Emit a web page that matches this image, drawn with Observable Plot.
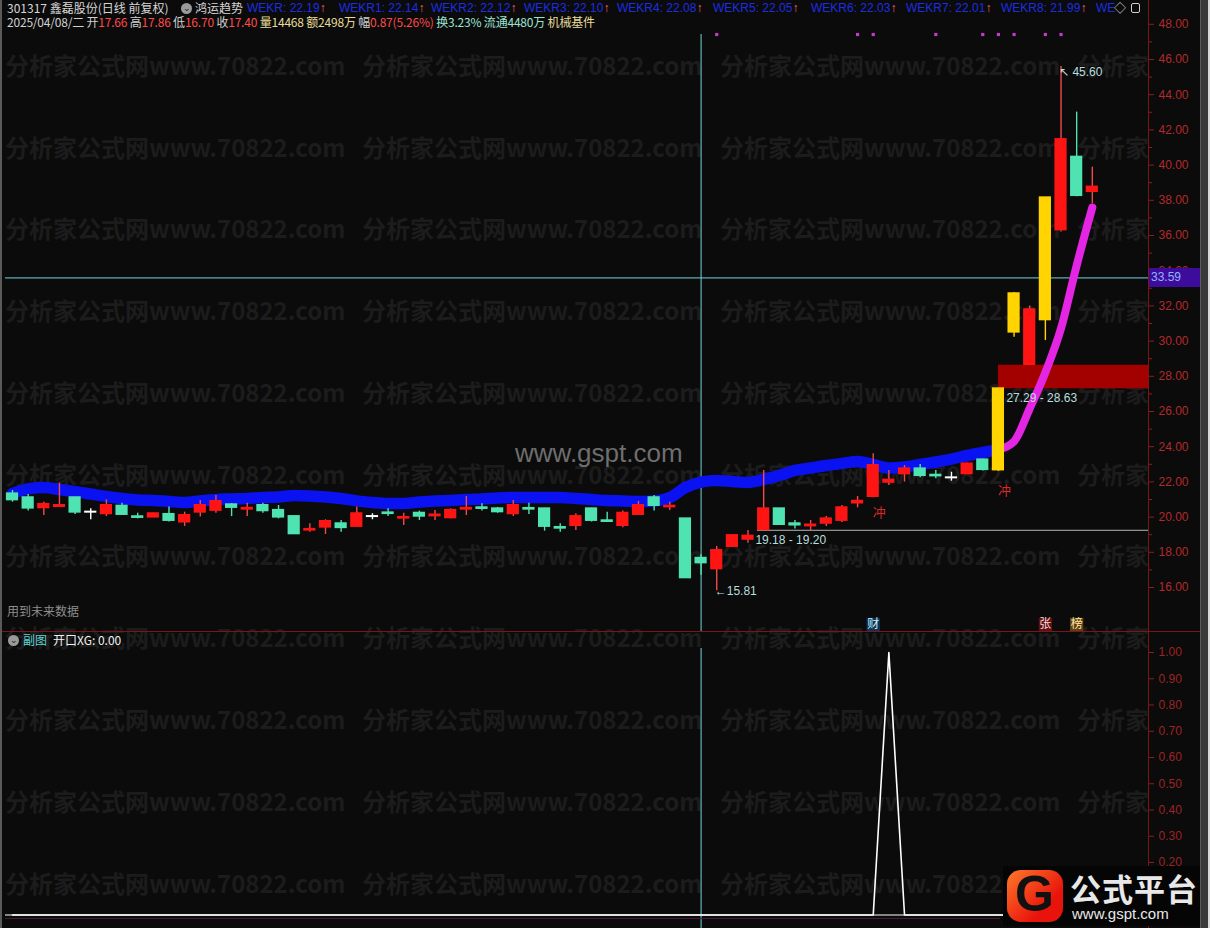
<!DOCTYPE html>
<html><head><meta charset="utf-8">
<script src="https://cdn.jsdelivr.net/npm/d3@7"></script>
<script src="https://cdn.jsdelivr.net/npm/@observablehq/plot@0.6"></script>
<style>
html,body{margin:0;padding:0;background:#0b0b0b;}
#root{position:relative;width:1210px;height:928px;background:#0b0b0b;overflow:hidden;font-family:"Noto Sans CJK SC","Noto Sans",sans-serif;}
.abs{position:absolute;white-space:nowrap;line-height:1;}
#wmLayer{position:absolute;left:0;top:0;width:1148px;height:928px;overflow:hidden;}
.wm{position:absolute;white-space:nowrap;font-family:"Noto Sans CJK SC",sans-serif;font-weight:700;font-size:24px;color:#1c1c1c;line-height:1;}
.hd{font-size:12px;}
.plotbox{position:absolute;left:0;}
.plotbox svg{display:block;overflow:visible;}
</style></head>
<body><div id="root">
<div id="wmLayer"></div>
<div class="abs" style="left:515px;top:440px;font-family:'Liberation Sans',Arial,sans-serif;font-size:26px;color:#6e6e6e;">www.gspt.com</div>
<div id="mainBox" class="plotbox" style="top:0"></div>
<div id="subBox" class="plotbox" style="top:632px"></div>
<div id="overlay"></div>
</div>
<script>
// ---------------- data ----------------
const opens  = [21.32,21.10,20.53,20.60,21.10,20.28,20.19,20.62,20.02,20.00,20.15,19.72,20.28,20.38,20.70,20.45,20.66,20.38,20.03,19.26,
                19.43,19.62,19.47,20.03,20.24,19.94,20.22,20.07,19.96,20.45,20.53,20.47,20.19,20.49,20.47,19.41,19.52,20.47,19.79,19.52,
                20.15,21.10,20.58,19.90,17.66,17.06,18.33,18.74,19.28,20.47,19.62,19.50,19.65,19.81,20.80,21.17,21.98,22.46,22.74,22.38,
                22.23,22.46,23.25,22.68,30.51,28.67,31.21,36.32,40.45,38.50];
const highs  = [21.51,21.28,20.85,21.93,21.12,20.47,20.98,20.79,20.22,20.22,20.57,20.28,20.94,21.23,20.76,20.79,20.79,20.66,20.05,19.62,
                19.85,19.81,20.57,20.19,20.47,20.22,20.34,20.38,20.47,21.17,20.76,20.55,20.94,20.79,20.50,19.62,20.19,20.50,20.28,20.34,
                20.89,21.23,20.85,19.90,17.86,18.33,19.00,19.24,22.65,20.47,19.81,19.81,20.03,20.66,21.17,23.60,22.65,22.93,22.99,22.65,
                22.55,23.08,23.30,27.29,32.75,31.99,38.14,45.60,43.01,39.88];
const lows   = [20.85,20.34,20.09,20.56,20.15,19.85,20.03,20.15,19.90,19.98,19.72,19.47,20.00,20.22,20.03,20.03,20.22,19.90,19.05,19.14,
                19.01,19.14,19.47,19.85,20.03,19.52,19.81,19.81,19.90,20.09,20.34,20.22,20.03,20.15,19.20,19.14,19.24,19.72,19.75,19.39,
                20.15,20.34,20.38,16.55,16.70,15.81,18.30,18.52,19.28,19.58,19.33,19.24,19.47,19.70,20.53,21.10,21.80,21.99,22.23,22.18,
                22.04,22.42,22.62,22.60,30.22,28.63,30.03,36.20,38.20,37.80];
const closes = [20.98,20.51,20.72,20.66,20.28,20.28,20.66,20.15,19.98,20.19,19.81,20.09,20.66,20.89,20.55,20.50,20.36,20.00,19.05,19.30,
                19.75,19.40,20.19,20.03,20.20,19.98,20.05,20.12,20.38,20.50,20.49,20.30,20.66,20.45,19.47,19.37,20.03,19.81,19.75,20.22,
                20.66,20.66,20.62,16.55,17.40,18.10,18.95,18.92,20.47,19.58,19.55,19.55,19.90,20.53,20.90,22.93,22.10,22.74,22.36,22.34,
                22.23,23.02,22.70,27.29,32.69,31.78,38.14,41.45,38.27,38.75];
const yellowIdx = [63,64,66];                 // strong-rally candles drawn in yellow
const trendBlue = [21.34,21.60,21.68,21.57,21.45,21.31,21.17,21.06,20.97,20.94,20.89,20.83,20.92,21.00,21.03,21.06,21.11,21.14,21.23,21.20,
                   21.14,21.06,20.92,20.83,20.77,20.77,20.86,20.92,20.94,21.00,21.03,21.09,21.11,21.11,21.11,21.11,21.06,21.00,20.94,20.92,
                   20.89,20.92,21.11,21.68,21.99,22.08,22.02,21.97,22.14,22.36,22.65,22.79,22.93,23.05,23.16,22.99,22.79,22.85,22.99,23.13,
                   23.30,23.50,23.67,23.84];          // index 0..63
const trendMagentaStart = 63;
const trendMagenta = [23.84,24.30,26.17,28.22,30.72,34.30,37.59]; // index 63..69
const subXG = [0,0,0,0,0,0,0,0,0,0,0,0,0,0,0,0,0,0,0,0,0,0,0,0,0,0,0,0,0,0,0,0,0,0,0,0,0,0,0,0,
               0,0,0,0,0,0,0,0,0,0,0,0,0,0,0,0,1,0,0,0,0,0,0,0,0,0,0,0,0,0];
const cursorIndex = 44;
const cursorPrice = 33.59;
const gapZone = {from: 63, lo: 27.29, hi: 28.63};
const supportLine = {from: 47.6, price: 19.25};
const priceNotes = [
  {x: 45, y: 15.81, text: "←15.81"},
  {x: 47.6, y: 18.67, text: "19.18 - 19.20"},
  {x: 67, y: 45.30, text: "↖ 45.60"}
];
const gapNote = {x: 63, y: 26.74, text: "27.29 - 28.63"};
const chongMarks = [{x: 55, y: 20.26}, {x: 63, y: 21.51}];
const eventMarks = [
  {x: 55, text: "财", bg: "#113252", fg: "#bff0ff"},
  {x: 66, text: "张", bg: "#5c1212", fg: "#ffd6d6"},
  {x: 68, text: "榜", bg: "#5e4016", fg: "#ffe6a0"}
];
const eventRowPrice = 13.90;
const signalDots = [45,54,55,59,62,63,64,66,67];
const priceTicks = d3.range(16, 49, 2);
const priceMinor = d3.range(17, 48, 2);
const subTicks = d3.range(0, 11).map(k => k / 10);
const wekr = [["WEKR",22.19],["WEKR1",22.14],["WEKR2",22.12],["WEKR3",22.10],["WEKR4",22.08],["WEKR5",22.05],["WEKR6",22.03],["WEKR7",22.01],["WEKR8",21.99]];

// ---------------- scales geometry ----------------
const xLo = -0.767, xHi = 72.59;
const candles = opens.map((o, i) => ({i, o, h: highs[i], l: lows[i], c: closes[i]}));
const ySet = new Set(yellowIdx);
const bodyCol = d => ySet.has(d.i) ? "#ffd400" : d.c > d.o ? "#ff1414" : d.c < d.o ? "#4fe3b2" : "#ffffff";
const wickCol = d => ySet.has(d.i) ? "#ffd400" : d.c > d.o ? "#f24a4a" : d.c < d.o ? "#4fe3b2" : "#ffffff";
const blueData = trendBlue.map((v, i) => ({i, v}));
const magData = trendMagenta.map((v, k) => ({i: trendMagentaStart + k, v}));
const axisRed = "#8c1e1e", labelRed = "#b22a2a";
const font = "'Liberation Sans','DejaVu Sans',sans-serif";

const main = Plot.plot({
  width: 1210, height: 632,
  marginTop: 34, marginRight: 62, marginBottom: 0, marginLeft: 5,
  x: {domain: [xLo, xHi], range: [0, 1148], axis: null},
  y: {domain: [13.443, 49.352], range: [632, 0], label: null},
  style: {background: "transparent", color: labelRed, fontSize: "12px", fontFamily: font},
  marks: [
    Plot.axisY({anchor: "right", ticks: priceTicks, tickFormat: d => d.toFixed(2), tickSize: 5, tickPadding: 5, stroke: axisRed, fill: labelRed, label: null}),
    Plot.axisY({anchor: "right", ticks: priceMinor, tickFormat: () => "", tickSize: 3, stroke: axisRed, label: null}),
    Plot.rect([gapZone], {x1: "from", x2: () => xHi, y1: "lo", y2: "hi", fill: "#a30000"}),
    Plot.ruleY([supportLine], {y: "price", x1: "from", x2: () => xHi, stroke: "#b4b4b4", strokeWidth: 1}),
    Plot.ruleY([cursorPrice], {stroke: "#74d4dc", strokeWidth: 1}),
    Plot.ruleX([cursorIndex], {stroke: "#74d4dc", strokeWidth: 1}),
    Plot.line(blueData, {x: "i", y: "v", stroke: "#0b12f2", strokeWidth: 11.5, curve: "monotone-x", strokeLinecap: "round"}),
    Plot.line(magData, {x: "i", y: "v", stroke: "#e426e4", strokeWidth: 8, curve: "monotone-x", strokeLinecap: "round"}),
    Plot.ruleX(candles, {x: "i", y1: "l", y2: "h", stroke: wickCol, strokeWidth: 1.4}),
    Plot.rect(candles, {x1: d => d.i - 0.39, x2: d => d.i + 0.39, y1: "o", y2: "c", fill: bodyCol, insetTop: -1, insetBottom: -1}),
    Plot.text(priceNotes, {x: "x", y: "y", text: "text", textAnchor: "start", dx: -2, fill: "#b8dede", fontSize: 12}),
    Plot.text([gapNote], {x: "x", y: "y", text: "text", textAnchor: "start", dx: 8, fill: "#b8dede", fontSize: 12}),
    Plot.text(chongMarks, {x: "x", y: "y", text: () => "冲", dx: 6, fill: "#d42a2a", fontSize: 13, fontFamily: "'Noto Sans CJK SC'"}),
    Plot.dot(eventMarks, {x: "x", y: () => eventRowPrice, symbol: "square", r: 7.5, fill: "bg", stroke: null}),
    Plot.text(eventMarks, {x: "x", y: () => eventRowPrice, text: "text", fill: "fg", fontSize: 12, fontFamily: "'Noto Sans CJK SC'"}),
    Plot.dot(signalDots, {x: d => d, frameAnchor: "top", symbol: "square", r: 1.8, fill: "#c43cc4", stroke: null})
  ]
});
document.getElementById("mainBox").appendChild(main);

const sub = Plot.plot({
  width: 1210, height: 296,
  marginTop: 16, marginRight: 62, marginBottom: 0, marginLeft: 5,
  x: {domain: [xLo, xHi], range: [0, 1148], axis: null},
  y: {domain: [0, 1], range: [282.5, 20], label: null},
  style: {background: "transparent", color: labelRed, fontSize: "12px", fontFamily: font},
  marks: [
    Plot.axisY({anchor: "right", ticks: subTicks, tickFormat: d => d.toFixed(2), tickSize: 5, tickPadding: 5, stroke: axisRed, fill: "#9c2424", label: null}),
    Plot.ruleY([0], {stroke: "#ffffff", strokeWidth: 1.2}),
    Plot.ruleX([cursorIndex], {stroke: "#74d4dc", strokeWidth: 1}),
    Plot.line(subXG.map((v, i) => ({i, v})), {x: "i", y: "v", stroke: "#ffffff", strokeWidth: 1.6})
  ]
});
document.getElementById("subBox").appendChild(sub);

// ---------------- watermarks ----------------
const wmLayer = document.getElementById("wmLayer");
[66,148,229,311,393,475,556,638,720,802,884].forEach(cy => {
  [5,362,720,1077].forEach(x => {
    const d = document.createElement("div");
    d.className = "wm"; d.style.left = x + "px"; d.style.top = (cy - 13) + "px";
    d.textContent = "分析家公式网www.70822.com";
    wmLayer.appendChild(d);
  });
});

// ---------------- overlay (header, lines, logo) ----------------
const ov = document.getElementById("overlay");
function add(html){ ov.insertAdjacentHTML("beforeend", html); }
// structural lines
add(`<div class="abs" style="left:0;top:631px;width:1200px;height:1px;background:#7a1616"></div>`);
add(`<div class="abs" style="left:1148px;top:0;width:1px;height:928px;background:#7a1616"></div>`);
add(`<div class="abs" style="left:5px;top:918px;width:995px;height:1px;background:#4a1838"></div>`);
add(`<div class="abs" style="left:0;top:0;width:2px;height:928px;background:#5a5a5a"></div>`);
add(`<div class="abs" style="left:1200px;top:0;width:8px;height:928px;background:#3a3a3a;border-left:1px solid #5c5c5c"></div>`);
add(`<div class="abs" style="left:1208px;top:0;width:2px;height:928px;background:#d8d8d8"></div>`);
// cursor price badge
add(`<div class="abs" style="left:1149px;top:268px;width:51px;height:19px;background:#3e0c9c;color:#8fb4ff;font-family:${font};font-size:12px;line-height:19px;padding-left:2px;box-sizing:border-box">${cursorPrice.toFixed(2)}</div>`);
// header line 1
const circ = x => `<div class="abs" style="left:${x}px;top:3px;width:11px;height:11px;border-radius:50%;background:#9a9a9a;color:#222;font-size:9px;line-height:10px;text-align:center">⌄</div>`;
add(`<div class="abs hd" style="left:7px;top:2px;color:#d6d6d6">301317 鑫磊股份(日线 前复权)</div>`);
add(circ(181));
add(`<div class="abs hd" style="left:195px;top:2px;color:#d6d6d6">鸿运趋势</div>`);
const wx = [247,339,431,524,617,713,811,906,1001];
wekr.forEach(([k, v], j) => {
  add(`<div class="abs hd" style="left:${wx[j]}px;top:2px;color:#1c2ee0;font-family:${font}">${k}: ${v.toFixed(2)}<span style="color:#ff6a6a">↑</span></div>`);
});
add(`<div class="abs hd" style="left:1096px;top:2px;color:#1c2ee0;font-family:${font}">WE</div>`);
add(`<div class="abs hd" style="left:1114px;top:2px;color:#cfcfcf">◇</div>`);
add(`<div class="abs" style="left:1131px;top:3px;width:9px;height:10px;border:1px solid #cfcfcf;border-radius:2px;box-sizing:border-box"></div>`);
// header line 2
const L = "#d0d0d0", R = "#ff4a4a", Y = "#e6dc9a", C = "#9fe3d2";
add(`<div class="abs hd" style="left:7px;top:16px;font-family:'Noto Sans CJK SC',sans-serif;letter-spacing:-0.2px">`
  + `<span style="color:${L}">2025/04/08/二</span> `
  + `<span style="color:${L}">开</span><span style="color:${R}">17.66</span> `
  + `<span style="color:${L}">高</span><span style="color:${R}">17.86</span> `
  + `<span style="color:${L}">低</span><span style="color:${R}">16.70</span> `
  + `<span style="color:${L}">收</span><span style="color:${R}">17.40</span> `
  + `<span style="color:${Y}">量14468</span> `
  + `<span style="color:${Y}">额2498万</span> `
  + `<span style="color:${L}">幅</span><span style="color:${R}">0.87(5.26%)</span> `
  + `<span style="color:${C}">换3.23%</span> `
  + `<span style="color:${C}">流通4480万</span> `
  + `<span style="color:${Y}">机械基件</span></div>`);
// future-data note
add(`<div class="abs" style="left:7px;top:605px;font-size:12px;color:#8e8e8e">用到未来数据</div>`);
// sub header
add(`<div class="abs" style="left:8px;top:635px;width:11px;height:11px;border-radius:50%;background:#9a9a9a;color:#222;font-size:9px;line-height:10px;text-align:center">⌄</div>`);
add(`<div class="abs hd" style="left:23px;top:634px;color:#5ed4d4">副图</div>`);
add(`<div class="abs hd" style="left:53px;top:634px;color:#f0f0f0">开口XG: 0.00</div>`);
// logo
add(`<div class="abs" style="left:1003px;top:866px;width:197px;height:60px;background:#050505"></div>`);
add(`<div class="abs" style="left:1007px;top:870px;width:56px;height:52px;border-radius:14px;background:linear-gradient(135deg,#ff7a2a,#e8140c 70%);"></div>`);
add(`<div class="abs" style="left:1015px;top:869px;font-family:'Liberation Sans',sans-serif;font-weight:700;font-size:50px;color:#111">G</div>`);
add(`<div class="abs" style="left:1070px;top:872px;font-family:'Noto Sans CJK SC',sans-serif;font-weight:700;font-size:31px;color:#e8e8e8;letter-spacing:1px">公式平台</div>`);
add(`<div class="abs" style="left:1072px;top:906px;font-family:'Liberation Sans',sans-serif;font-size:15px;color:#e8e8e8">www.gspt.com</div>`);
</script>
</body></html>
